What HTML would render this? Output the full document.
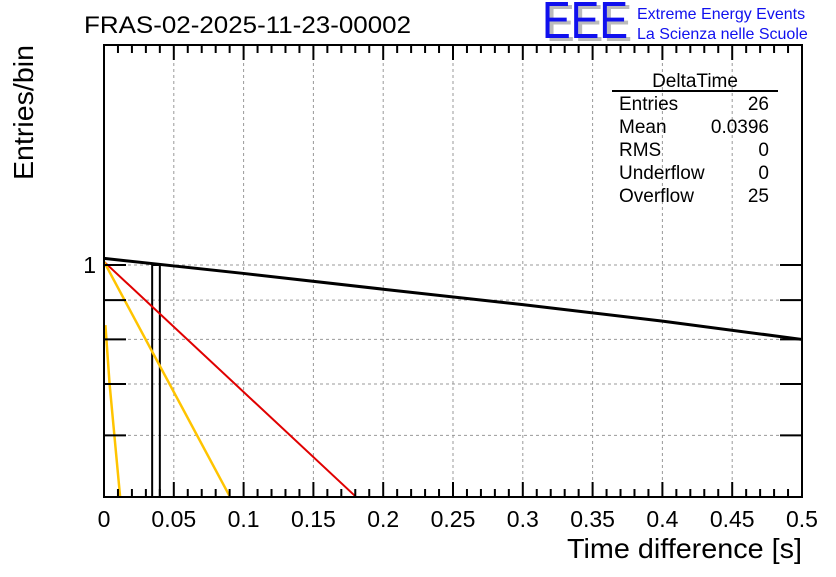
<!DOCTYPE html>
<html><head><meta charset="utf-8"><style>
body{margin:0;background:#fff;width:836px;height:572px;overflow:hidden}
svg text{font-family:"Liberation Sans",sans-serif}
</style></head><body>
<svg id="c" width="836" height="572" xmlns="http://www.w3.org/2000/svg">
<text x="84" y="33" font-size="24.5" textLength="327" lengthAdjust="spacingAndGlyphs">FRAS-02-2025-11-23-00002</text>
<g>
<text x="546" y="41" font-size="52" fill="#bbb" textLength="86" lengthAdjust="spacingAndGlyphs">EEE</text>
<text x="542" y="38" font-size="52" fill="#1010ee" textLength="86" lengthAdjust="spacingAndGlyphs">EEE</text>
<text x="637" y="19" font-size="16" fill="#1010ee">Extreme Energy Events</text>
<text x="637" y="39" font-size="16" fill="#1010ee">La Scienza nelle Scuole</text>
</g>
<g id="grid"></g><g id="marks"></g><g id="axes"></g>
<text transform="translate(33,180) rotate(-90)" font-size="28" textLength="135" lengthAdjust="spacingAndGlyphs">Entries/bin</text>
<text x="802" y="558" font-size="28" text-anchor="end" textLength="235" lengthAdjust="spacingAndGlyphs">Time difference [s]</text>
<g font-size="19">
<text x="695" y="87" text-anchor="middle">DeltaTime</text>
<line x1="612" y1="91" x2="778" y2="91" stroke="#000" stroke-width="2"/>
<text x="619" y="110">Entries</text><text x="769" y="110" text-anchor="end">26</text>
<text x="619" y="133">Mean</text><text x="769" y="133" text-anchor="end">0.0396</text>
<text x="619" y="156">RMS</text><text x="769" y="156" text-anchor="end">0</text>
<text x="619" y="179">Underflow</text><text x="769" y="179" text-anchor="end">0</text>
<text x="619" y="202">Overflow</text><text x="769" y="202" text-anchor="end">25</text>
</g>
</svg>
<script>
const xTicks=[0,0.05,0.1,0.15,0.2,0.25,0.3,0.35,0.4,0.45,0.5];
const xTickLabels=["0","0.05","0.1","0.15","0.2","0.25","0.3","0.35","0.4","0.45","0.5"];
const yGrid=[0.6,0.7,0.8,0.9,1];
const histBinEdges=[0.0345,0.040];
const histBinValue=[1];
const blackX=[0,0.1,0.2,0.3,0.4,0.5];
const blackY=[1.02,0.975,0.93,0.888,0.845,0.8];
const redX=[0,0.18];
const redY=[1.01,0.5];
const yellowX=[0,0.09];
const yellowY=[1.01,0.5];
const yellow2X=[0.001,0.004,0.0115];
const yellow2Y=[0.835,0.7,0.5];

const L=104,R=802,T=45,B=497,Y1=265,DEC=768;
const sx=v=>L+(v-0)/(0.5)*(R-L);
const sy=v=>Y1-Math.log10(v)*DEC;
const NS="http://www.w3.org/2000/svg";
function mk(p,tag,a){const e=document.createElementNS(NS,tag);for(const k in a)e.setAttribute(k,a[k]);p.appendChild(e);return e;}
const grid=document.getElementById('grid'),marks=document.getElementById('marks'),axes=document.getElementById('axes');
xTicks.forEach(t=>{if(t>0&&t<0.5){const l=mk(grid,'line',{x1:sx(t),x2:sx(t),y1:T,y2:B,stroke:'#999','stroke-dasharray':'3,3'});

}});
yGrid.forEach(v=>{const l=mk(grid,'line',{x1:L,x2:R,y1:sy(v),y2:sy(v),stroke:'#999','stroke-dasharray':'3,3'});


[[L,L+22],[R-22,R]].forEach(([a,b])=>mk(axes,'line',{x1:a,x2:b,y1:sy(v),y2:sy(v),stroke:'#000','stroke-width':2}));});
const hb=mk(marks,'path',{d:`M${sx(histBinEdges[0])},${B}V${sy(histBinValue[0])}H${sx(histBinEdges[1])}V${B}`,fill:'none',stroke:'#000','stroke-width':2});


function line(xs,ys,col,w,name){const p=mk(marks,'polyline',{points:xs.map((x,i)=>sx(x)+','+sy(ys[i])).join(' '),fill:'none',stroke:col,'stroke-width':w});

}
line(blackX,blackY,'#000',3,'black-fit-curve');
line(redX,redY,'#e00000',2,'red-fit-curve');
line(yellowX,yellowY,'#ffc400',2.5,'yellow-fit-curve');
line(yellow2X,yellow2Y,'#ffc400',2.5,'yellow-steep-curve');
const fr=mk(axes,'rect',{x:L,y:T,width:R-L,height:B-T,fill:'none',stroke:'#000','stroke-width':2});


for(let i=0;i<=50;i++){const v=i*0.01,len=(i%5==0)?15:8;
mk(axes,'line',{x1:sx(v),x2:sx(v),y1:B,y2:B-len,stroke:'#000','stroke-width':2});
mk(axes,'line',{x1:sx(v),x2:sx(v),y1:T,y2:T+len,stroke:'#000','stroke-width':2});}
xTicks.forEach((t,i)=>{const tx=mk(axes,'text',{x:sx(t),y:527,'font-size':23,'text-anchor':'middle'});tx.textContent=xTickLabels[i];

});
const yl=mk(axes,'text',{x:96,y:sy(1)+8,'font-size':23,'text-anchor':'end'});yl.textContent='1';


</script>
</body></html>
